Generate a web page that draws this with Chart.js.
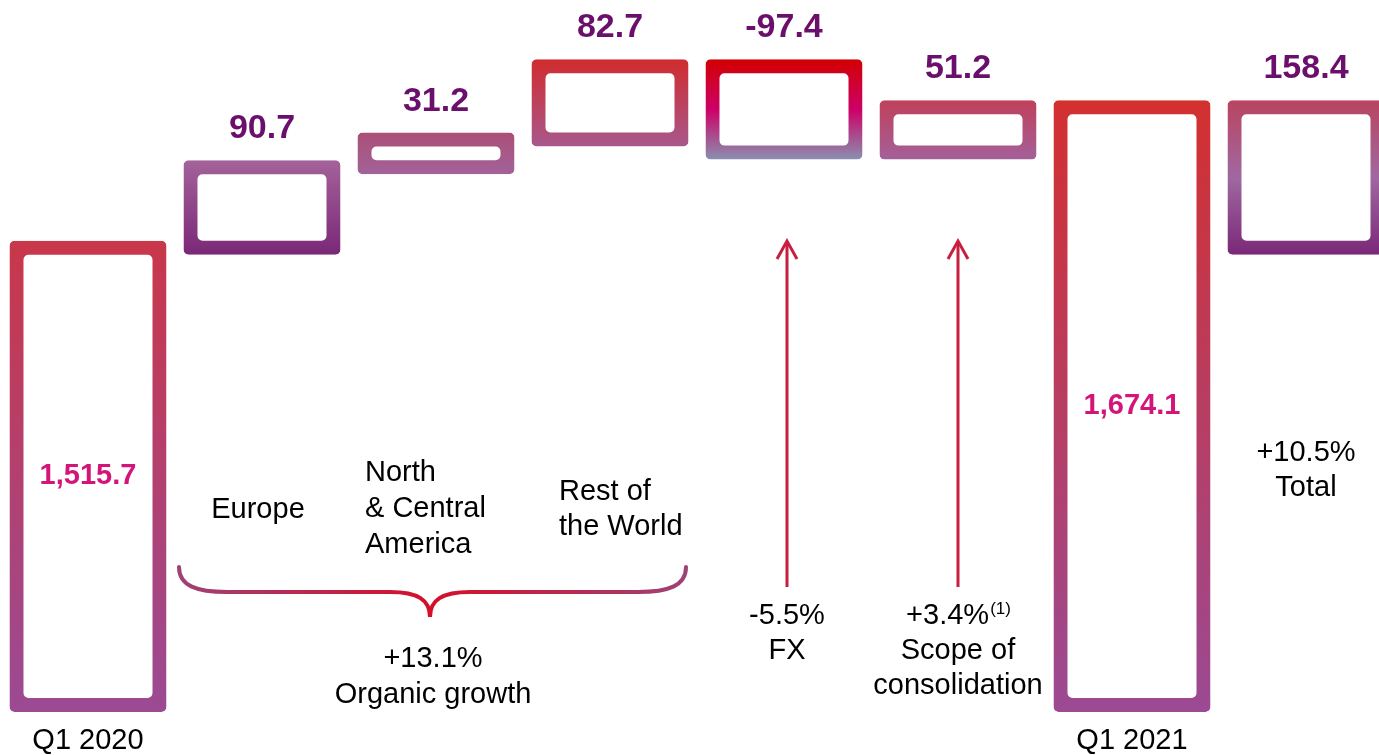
<!DOCTYPE html>
<html>
<head>
<meta charset="utf-8">
<script src="https://cdn.jsdelivr.net/npm/chart.js"></script>
<style>
  html, body { margin: 0; padding: 0; background: #fff; overflow: hidden; }
  #wrap { position: relative; width: 1393px; height: 755px; }
</style>
</head>
<body>
<div id="wrap"><canvas id="bridgeChart"></canvas></div>
<script>
// Sales bridge Q1 2020 -> Q1 2021
const categories = ["Q1 2020", "Europe", "North & Central America", "Rest of the World", "FX", "Scope of consolidation", "Q1 2021", "Total"];
const openingValue = 1515.7;
const steps = [90.7, 31.2, 82.7, -97.4, 51.2]; // Europe, N&C America, RoW, FX, scope
const closingValue = 1674.1;
const totalChange = 158.4;
const axisFloor = 1000;
const axisCeiling = 1795;
const tickLabels = ["Q1 2020", "", "", "", "", "", "Q1 2021", ""];

// floating bars [start, end]
let bars = [[axisFloor, openingValue]];
let running = openingValue;
steps.forEach(s => {
    bars.push([running, +(running + s).toFixed(1)]);
    running = +(running + s).toFixed(1);
});
bars.push([axisFloor, closingValue]);
bars.push([openingValue, openingValue + totalChange]);

const barLabels = [openingValue].concat(steps, [closingValue, totalChange]).map(v =>
    v.toLocaleString("en-US", {minimumFractionDigits: 1, maximumFractionDigits: 1}));

// gradient stops per bar, top -> bottom
const barColors = [
    ["#c9374a", "#9b4a94"],
    ["#a4629a", "#7a2877"],
    ["#ab4f76", "#a2629a"],
    ["#d02c2e", "#a8588c"],
    ["#d20000", "#cc0068", "#8a90b0"],
    ["#c0405a", "#a4609a"],
    ["#d3302f", "#9b4a94"],
    ["#b94460", "#a068a0", "#7a2878"]
];

const FONT = "'Liberation Sans', Arial, sans-serif";
const STROKE = 7; // half of the outline width

function barGradient(ctx) {
    const chart = ctx.chart;
    if (!chart.chartArea || ctx.type !== "data") return barColors[0][0];
    const yScale = chart.scales.y;
    const [a, b] = bars[ctx.dataIndex];
    const top = yScale.getPixelForValue(Math.max(a, b)) - STROKE;
    const bottom = yScale.getPixelForValue(Math.min(a, b)) + STROKE;
    const g = chart.ctx.createLinearGradient(0, top, 0, bottom);
    const stops = barColors[ctx.dataIndex];
    stops.forEach((c, i) => g.addColorStop(i / (stops.length - 1), c));
    return g;
}

function drawArrow(ctx, x, yTop, yBottom) {
    ctx.save();
    ctx.strokeStyle = "#c81e40";
    ctx.lineWidth = 3;
    ctx.beginPath();
    ctx.moveTo(x, yBottom);
    ctx.lineTo(x, yTop + 1);
    ctx.stroke();
    ctx.beginPath();
    ctx.moveTo(x - 10, yTop + 18);
    ctx.lineTo(x, yTop);
    ctx.lineTo(x + 10, yTop + 18);
    ctx.stroke();
    ctx.restore();
}

function drawBrace(ctx, left, right, tipX, yTop, yMid, yTip) {
    ctx.save();
    const g = ctx.createLinearGradient(left, 0, right, 0);
    g.addColorStop(0, "#9e4276");
    g.addColorStop(0.5, "#d40f2a");
    g.addColorStop(1, "#9e4276");
    ctx.strokeStyle = g;
    ctx.lineWidth = 4;
    ctx.lineCap = "round";
    ctx.beginPath();
    ctx.moveTo(left, yTop);
    ctx.bezierCurveTo(left, yMid - 6, left + 18, yMid, left + 48, yMid);
    ctx.lineTo(tipX - 40, yMid);
    ctx.bezierCurveTo(tipX - 12, yMid, tipX, yMid + 8, tipX, yTip);
    ctx.bezierCurveTo(tipX, yMid + 8, tipX + 12, yMid, tipX + 40, yMid);
    ctx.lineTo(right - 48, yMid);
    ctx.bezierCurveTo(right - 18, yMid, right, yMid - 6, right, yTop);
    ctx.stroke();
    ctx.restore();
}

function text(ctx, str, x, y, align) {
    ctx.textAlign = align || "center";
    ctx.fillText(str, x, y);
}

const annotationPlugin = {
    id: "bridgeAnnotations",
    afterDatasetsDraw(chart) {
        const ctx = chart.ctx;
        const xs = chart.scales.x;
        const meta = chart.getDatasetMeta(0);
        const cx = i => xs.getPixelForValue(i);

        ctx.save();
        // value labels
        meta.data.forEach((el, i) => {
            const top = Math.min(el.y, el.base);
            const bottom = Math.max(el.y, el.base);
            if (i === 0 || i === 6) {
                ctx.font = "bold 29px " + FONT;
                ctx.fillStyle = "#d3157a";
                ctx.textBaseline = "middle";
                text(ctx, barLabels[i], el.x, (top + bottom) / 2);
            } else {
                ctx.font = "bold 34px " + FONT;
                ctx.fillStyle = "#6b0f6d";
                ctx.textBaseline = "alphabetic";
                text(ctx, barLabels[i], el.x, top - 29);
            }
        });

        // category notes
        ctx.font = "29px " + FONT;
        ctx.fillStyle = "#000";
        ctx.textBaseline = "middle";
        text(ctx, "Europe", cx(1) - 4, 510);
        text(ctx, "North", cx(2) - 71, 473, "left");
        text(ctx, "& Central", cx(2) - 71, 509, "left");
        text(ctx, "America", cx(2) - 71, 545, "left");
        text(ctx, "Rest of", cx(3) - 51, 492, "left");
        text(ctx, "the World", cx(3) - 51, 527, "left");

        drawBrace(ctx, cx(1) - 83, cx(3) + 76, cx(2) - 6, 567, 592, 617);
        text(ctx, "+13.1%", cx(2) - 3, 659);
        text(ctx, "Organic growth", cx(2) - 3, 695);

        const fxX = cx(4) + 3;
        drawArrow(ctx, fxX, 241, 587);
        text(ctx, "-5.5%", fxX, 616);
        text(ctx, "FX", fxX, 651);

        const scX = cx(5);
        drawArrow(ctx, scX, 241, 587);
        ctx.font = "29px " + FONT;
        const mainW = ctx.measureText("+3.4%").width;
        ctx.font = "17px " + FONT;
        const supW = ctx.measureText("(1)").width;
        const startX = scX - (mainW + supW) / 2;
        ctx.font = "29px " + FONT;
        text(ctx, "+3.4%", startX, 616, "left");
        ctx.font = "17px " + FONT;
        text(ctx, "(1)", startX + mainW + 1, 609, "left");
        ctx.font = "29px " + FONT;
        text(ctx, "Scope of", scX, 651);
        text(ctx, "consolidation", scX, 686);

        text(ctx, "+10.5%", cx(7), 453);
        text(ctx, "Total", cx(7), 488);
        ctx.restore();
    }
};

new Chart(document.getElementById("bridgeChart"), {
    type: "bar",
    data: {
        labels: categories,
        datasets: [{
            data: bars,
            backgroundColor: "rgba(0,0,0,0)",
            borderColor: barGradient,
            borderWidth: 0.01,
            inflateAmount: STROKE,
            borderSkipped: false,
            borderRadius: 5,
            barPercentage: 0.822,
            categoryPercentage: 1,
            clip: false
        }]
    },
    options: {
        responsive: true,
        maintainAspectRatio: false,
        animation: false,
        layout: { padding: { left: 1, right: 0, top: 0, bottom: 0 } },
        plugins: {
            legend: { display: false },
            tooltip: { enabled: false }
        },
        scales: {
            x: {
                grid: { display: false, drawTicks: false },
                border: { display: false },
                ticks: {
                    padding: 19,
                    color: "#000",
                    font: { family: FONT, size: 29 },
                    maxRotation: 0,
                    autoSkip: false,
                    callback: (v, i) => tickLabels[i]
                },
                afterFit: scale => { scale.height = 50; }
            },
            y: {
                display: false,
                min: axisFloor,
                max: axisCeiling
            }
        }
    },
    plugins: [annotationPlugin]
});
</script>
</body>
</html>
